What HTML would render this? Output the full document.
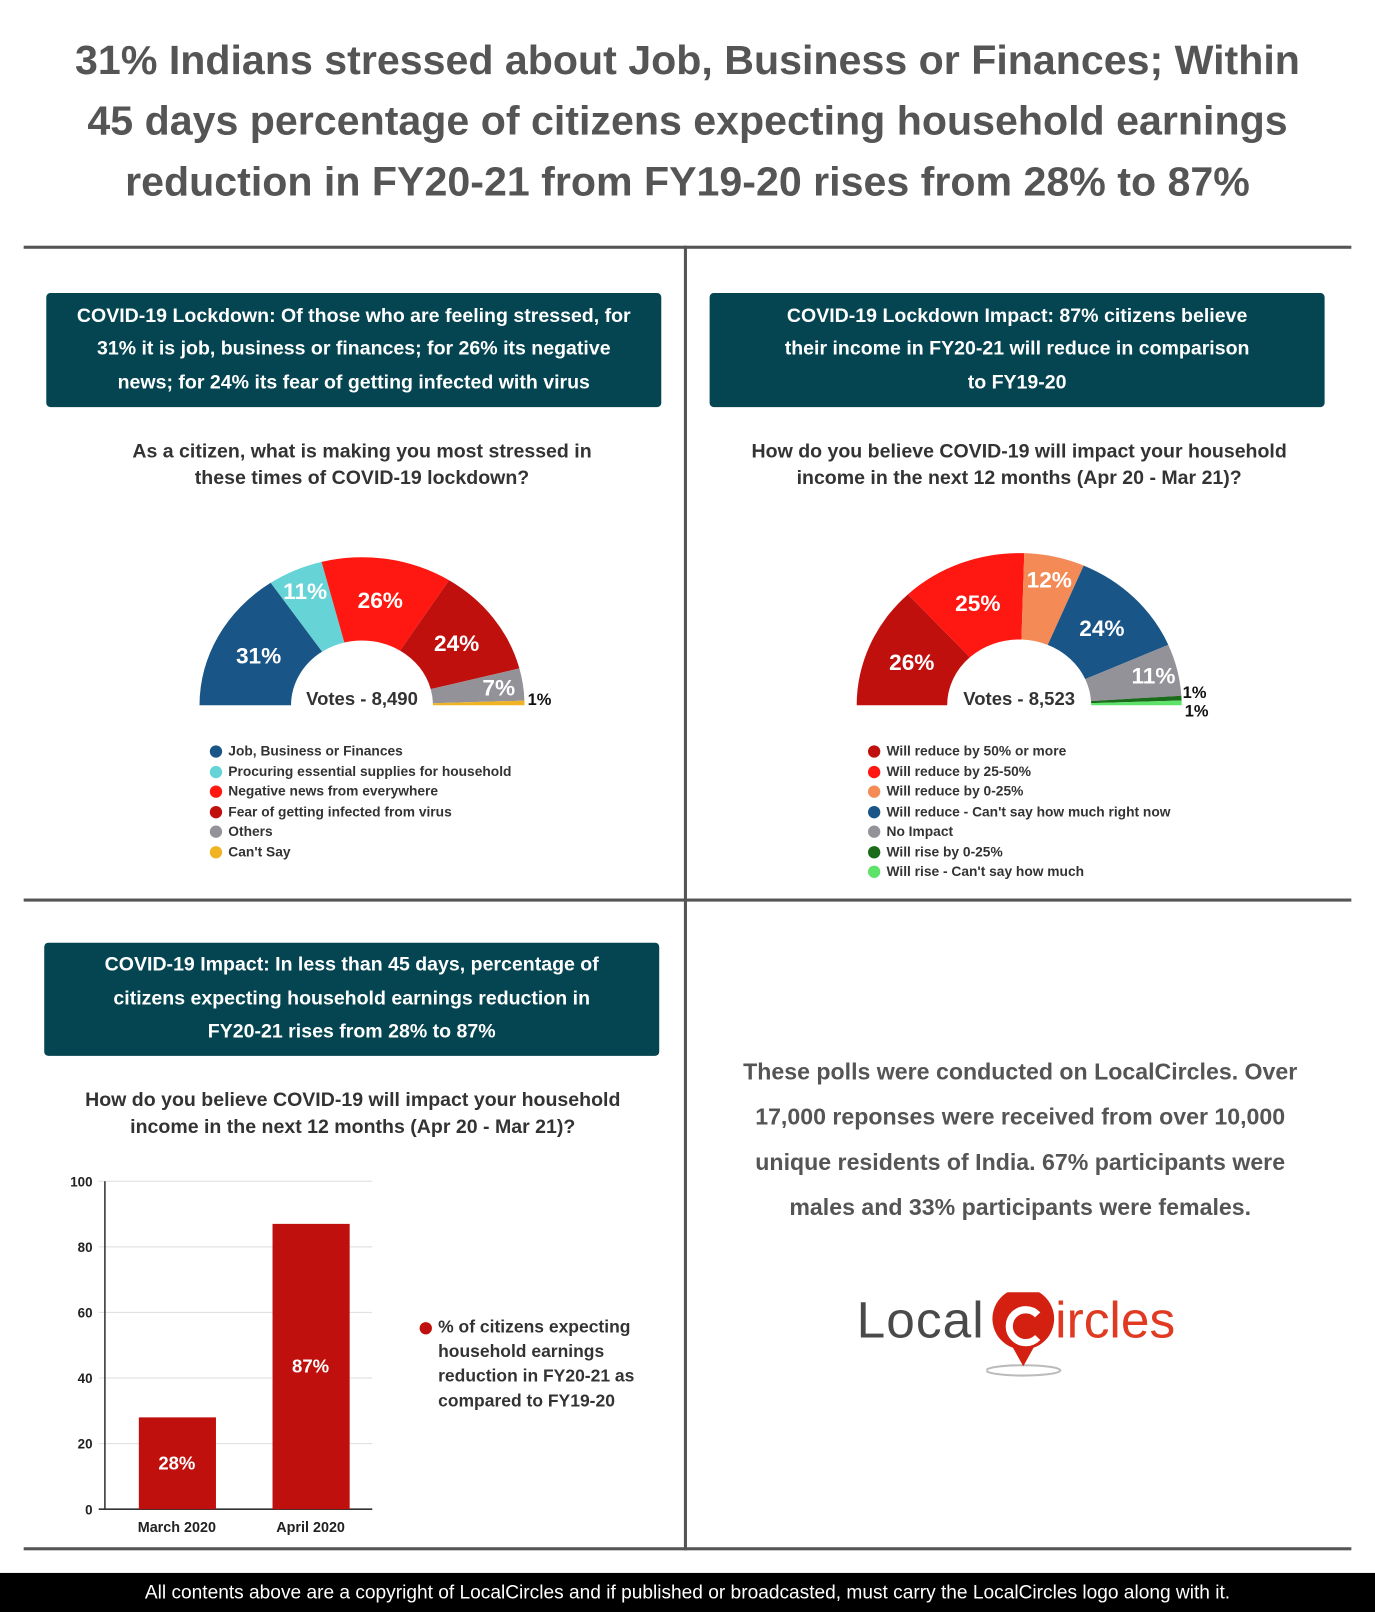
<!DOCTYPE html>
<html><head><meta charset="utf-8">
<style>
html,body{margin:0;padding:0;background:#fff;}
body{width:1375px;height:1612px;overflow:hidden;position:relative;}
#wrap{position:absolute;left:0;top:0;width:1337px;height:1568px;transform:scale(1.02842,1.02806);transform-origin:0 0;font-family:"Liberation Sans",sans-serif;}
.abs{position:absolute;}
.title{left:0;width:1337px;text-align:center;font-weight:bold;font-size:40px;color:#555;line-height:59px;top:30px;}
.hl{background:#555;height:3px;}
.vl{background:#555;width:3px;}
.box{background:#044551;border-radius:4px;color:#fff;font-weight:bold;font-size:19px;text-align:center;line-height:32.5px;display:flex;align-items:center;justify-content:center;}
.q{font-family:"Liberation Sans Narrow","Liberation Sans",sans-serif;font-weight:bold;font-size:19px;color:#333;text-align:center;line-height:26px;}
.leg{font-family:"Liberation Sans Narrow","Liberation Sans",sans-serif;font-weight:bold;font-size:13.4px;color:#333;line-height:19.5px;}
.leg div{position:relative;padding-left:20px;white-space:nowrap;}
.leg span{position:absolute;left:2px;top:4px;width:12px;height:12px;border-radius:50%;}
.note{left:690px;width:604px;text-align:center;font-weight:bold;font-size:22.5px;color:#555;line-height:44px;top:1021px;}
</style></head><body>
<div id="wrap">
<div class="abs title">31% Indians stressed about Job, Business or Finances; Within<br>45 days percentage of citizens expecting household earnings<br>reduction in FY20-21 from FY19-20 rises from 28% to 87%</div>
<div class="abs hl" style="left:23px;top:239px;width:1291px"></div>
<div class="abs hl" style="left:23px;top:874px;width:1291px"></div>
<div class="abs hl" style="left:23px;top:1505px;width:1291px"></div>
<div class="abs vl" style="left:665px;top:239px;height:1269px"></div>

<div class="abs box" style="left:45px;top:285px;width:598px;height:111px">COVID-19 Lockdown: Of those who are feeling stressed, for<br>31% it is job, business or finances; for 26% its negative<br>news; for 24% its fear of getting infected with virus</div>
<div class="abs box" style="left:690px;top:285px;width:598px;height:111px">COVID-19 Lockdown Impact: 87% citizens believe<br>their income in FY20-21 will reduce in comparison<br>to FY19-20</div>
<div class="abs box" style="left:43px;top:917px;width:598px;height:110px">COVID-19 Impact: In less than 45 days, percentage of<br>citizens expecting household earnings reduction in<br>FY20-21 rises from 28% to 87%</div>

<div class="abs q" style="left:52px;width:600px;top:427px">As a citizen, what is making you most stressed in<br>these times of COVID-19 lockdown?</div>
<div class="abs q" style="left:691px;width:600px;top:427px">How do you believe COVID-19 will impact your household<br>income in the next 12 months (Apr 20 - Mar 21)?</div>
<div class="abs q" style="left:43px;width:600px;top:1058px">How do you believe COVID-19 will impact your household<br>income in the next 12 months (Apr 20 - Mar 21)?</div>

<svg class="abs" style="left:0;top:0" width="1337" height="1568" id="charts"></svg>

<div class="abs leg" id="leg1" style="left:202px;top:721px"></div>
<div class="abs leg" id="leg2" style="left:842px;top:721px"></div>

<div class="abs leg" style="left:406px;top:1279px;font-size:17px;line-height:24px"><div><span style="background:#c0100e;top:7px"></span>% of citizens expecting<br>household earnings<br>reduction in FY20-21 as<br>compared to FY19-20</div></div>

<div class="abs note">These polls were conducted on LocalCircles. Over<br>17,000 reponses were received from over 10,000<br>unique residents of India. 67% participants were<br>males and 33% participants were females.</div>

<div class="abs" style="left:833px;top:1255px;width:330px;height:90px">
<span class="abs" style="left:0;top:0;font-size:50px;color:#4a4a4a;letter-spacing:1px">Local</span>
<svg class="abs" style="left:126px;top:2px" width="80" height="84"><ellipse cx="36" cy="76" rx="36" ry="5" fill="none" stroke="#bbb" stroke-width="2"/><path d="M36 72 L26 54 A30 30 0 1 1 46 54 Z" fill="#d42010"/><path d="M50 22 A16 16 0 1 0 50 44" fill="none" stroke="#fff" stroke-width="7"/></svg>
<span class="abs" style="left:193px;top:0;font-size:50px;color:#e03a22">ircles</span>
</div>

<div class="abs" style="left:0;top:1530px;width:1337px;height:38px;background:#000;color:#fff;text-align:center;font-size:18.6px;line-height:38px">All contents above are a copyright of LocalCircles and if published or broadcasted, must carry the LocalCircles logo along with it.</div>
</div>
<script>
const d1Labels=["Job, Business or Finances","Procuring essential supplies for household","Negative news from everywhere","Fear of getting infected from virus","Others","Can't Say"];
const d1Values=[31,11,26,24,7,1];
const d1Colors=["#1a5587","#66d3d6","#ff1711","#c0100e","#939298","#f0b323"];
const d2Labels=["Will reduce by 50% or more","Will reduce by 25-50%","Will reduce by 0-25%","Will reduce - Can't say how much right now","No Impact","Will rise by 0-25%","Will rise - Can't say how much"];
const d2Values=[26,25,12,24,11,1,1];
const d2Colors=["#c0100e","#ff1711","#f48a55","#1a5587","#939298","#1a6b1a","#5ee36a"];
const barCats=["March 2020","April 2020"];
const barVals=[28,87];
const yTicks=[0,20,40,60,80,100];
const NS="http://www.w3.org/2000/svg";
const svg=document.getElementById('charts');
function mk(t,a,p){const e=document.createElementNS(NS,t);for(const k in a)e.setAttribute(k,a[k]);(p||svg).appendChild(e);return e;}
function donut(cx,cy,rx,ry,irx,iry,vals,cols,name,votes){
  const tot=vals.reduce((a,b)=>a+b,0);let acc=0;
  vals.forEach((v,i)=>{
    const a0=Math.PI*(1-acc/tot),a1=Math.PI*(1-(acc+v)/tot);
    const p=`M${cx+rx*Math.cos(a0)} ${cy-ry*Math.sin(a0)} A${rx} ${ry} 0 0 1 ${cx+rx*Math.cos(a1)} ${cy-ry*Math.sin(a1)} L${cx+irx*Math.cos(a1)} ${cy-iry*Math.sin(a1)} A${irx} ${iry} 0 0 0 ${cx+irx*Math.cos(a0)} ${cy-iry*Math.sin(a0)}Z`;
    const s=mk('path',{d:p,fill:cols[i]});
    
    
    const am=(a0+a1)/2;
    if(v>=5){
      const f=v<15?0.85:0.72;
      const t=mk('text',{x:cx+rx*f*Math.cos(am),y:cy-ry*f*Math.sin(am)+8,'text-anchor':'middle','font-size':22,'font-weight':'bold',fill:'#fff','font-family':'Liberation Sans,sans-serif'});
      t.textContent=v+'%';
      
      
    }
    acc+=v;
  });
  const vt=mk('text',{x:cx,y:cy,'text-anchor':'middle','font-size':18,'font-weight':'bold',fill:'#333','font-family':'Liberation Sans Narrow,Liberation Sans,sans-serif'});
  vt.textContent='Votes - '+votes;
  
  
}
donut(352,686,158,144,69,63,d1Values,d1Colors,'donut1','8,490');
donut(991,686,158,148,70,64,d2Values,d2Colors,'donut2','8,523');
function smallLbl(x,y,s,n){const t=mk('text',{x:x,y:y,'font-size':16,'font-weight':'bold',fill:'#111','font-family':'Liberation Sans,sans-serif'});t.textContent=s;}
smallLbl(513,686,d1Values[5]+'%','donut1-label-small');
smallLbl(1150,679,d2Values[5]+'%','donut2-label-small-a');
smallLbl(1152,697,d2Values[6]+'%','donut2-label-small-b');
function legend(id,labels,cols){const L=document.getElementById(id);labels.forEach((l,i)=>{const d=document.createElement('div');d.innerHTML='<span style="background:'+cols[i]+'"></span>'+l;L.appendChild(d);});}
legend('leg1',d1Labels,d1Colors);
legend('leg2',d2Labels,d2Colors);
const x0=102,x1=362,y0=1468,y1=1149;
const ys=v=>y0-(v/100)*(y0-y1);
yTicks.forEach(t=>{
  const g=mk('line',{x1:x0-6,x2:x1,y1:ys(t),y2:ys(t),stroke:t===0?'#333':'#ddd','stroke-width':t===0?1.5:1});
  
  
  const tl=mk('text',{x:x0-12,y:ys(t)+5,'text-anchor':'end','font-size':13,'font-weight':'bold',fill:'#222','font-family':'Liberation Sans,sans-serif'});
  tl.textContent=t;
  
  
});
const ax=mk('line',{x1:x0,x2:x0,y1:y1,y2:y0,stroke:'#333','stroke-width':1.5});


const bw=(x1-x0)/barCats.length;
barCats.forEach((c,i)=>{
  const cx=x0+bw*(i+0.5)+5;
  const b=mk('rect',{x:cx-37,y:ys(barVals[i]),width:75,height:y0-ys(barVals[i]),fill:'#c0100e'});
  
  
  const v=mk('text',{x:cx,y:(ys(barVals[i])+y0)/2+6,'text-anchor':'middle','font-size':18,'font-weight':'bold',fill:'#fff','font-family':'Liberation Sans,sans-serif'});
  v.textContent=barVals[i]+'%';
  
  
  const cl=mk('text',{x:cx,y:y0+22,'text-anchor':'middle','font-size':14,'font-weight':'bold',fill:'#222','font-family':'Liberation Sans,sans-serif'});
  cl.textContent=c;
  
  
});
</script>
</body></html>
